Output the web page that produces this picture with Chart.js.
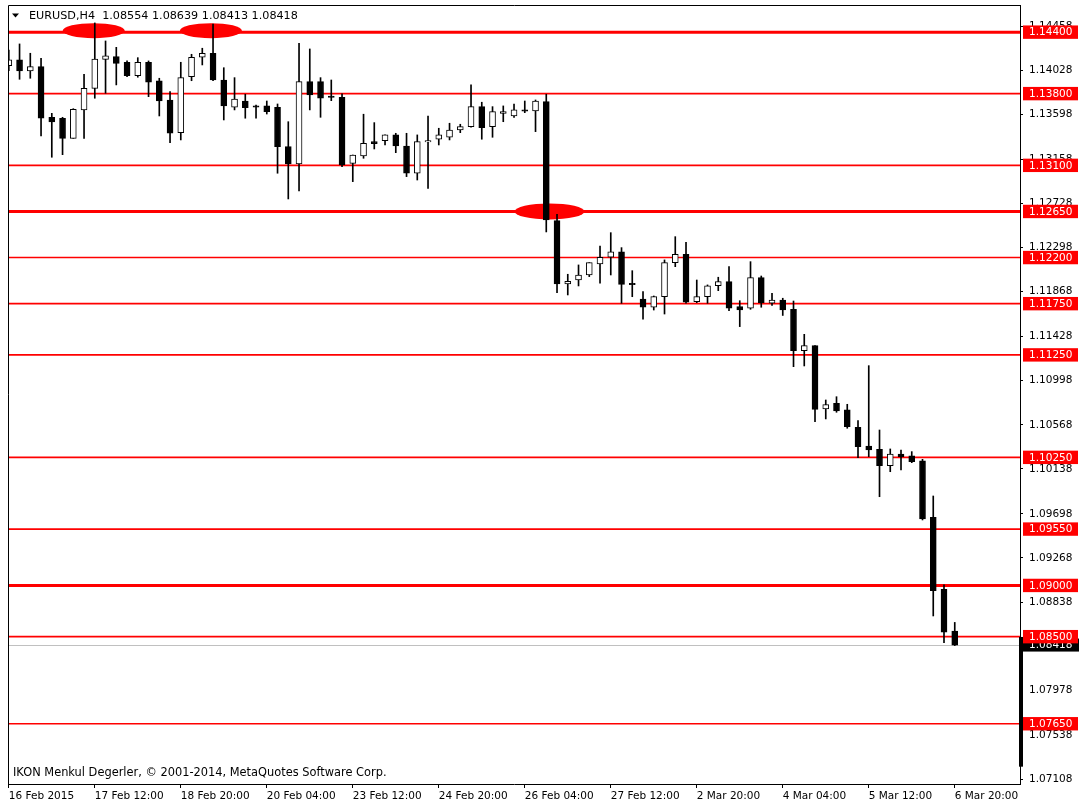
<!DOCTYPE html>
<html><head><meta charset="utf-8">
<script src="https://cdn.jsdelivr.net/npm/chart.js@4.4.1/dist/chart.umd.min.js"></script>
<style>html,body{margin:0;padding:0;background:#fff;overflow:hidden}#wrap{width:1079px;height:807px}</style>
</head><body>
<div id="wrap"><canvas id="c" width="1079" height="807"></canvas></div>
<script>
// ---- data (EURUSD H4) ----
const symbolTitle = 'EURUSD,H4';
const opens  = [1.14073,1.14129,1.14021,1.14063,1.13569,1.13560,1.13364,1.13641,1.13852,1.14135,
                1.14161,1.14106,1.13975,1.14106,1.13924,1.13738,1.13419,1.13966,1.14155,1.14194,
                1.13933,1.13667,1.13728,1.13680,1.13680,1.13667,1.13282,1.13113,1.13917,1.13917,
                1.13777,1.13764,1.13120,1.13192,1.13331,1.13341,1.13397,1.13289,1.13023,1.13328,
                1.13355,1.13374,1.13445,1.13478,1.13673,1.13478,1.13608,1.13582,1.13641,1.13631,
                1.13722,1.12560,1.11942,1.11981,1.12030,1.12138,1.12203,1.12255,1.11949,1.11796,
                1.11715,1.11818,1.12150,1.12232,1.11770,1.11818,1.11926,1.11965,1.11721,1.11705,
                1.12004,1.11754,1.11786,1.11695,1.11291,1.11340,1.10722,1.10778,1.10713,1.10544,
                1.10361,1.10329,1.10169,1.10283,1.10266,1.10215,1.09665,1.08963,1.08554];
const highs  = [1.14226,1.14285,1.14194,1.14145,1.13608,1.13569,1.13653,1.13989,1.14490,1.14314,
                1.14252,1.14119,1.14151,1.14119,1.13950,1.13819,1.14106,1.14184,1.14243,1.14480,
                1.14053,1.13956,1.13794,1.13689,1.13728,1.13699,1.13526,1.14292,1.14236,1.13956,
                1.13933,1.13797,1.13201,1.13599,1.13517,1.13397,1.13413,1.13413,1.13397,1.13582,
                1.13462,1.13511,1.13501,1.13885,1.13716,1.13673,1.13680,1.13699,1.13728,1.13738,
                1.13794,1.12623,1.12037,1.12128,1.12150,1.12313,1.12443,1.12297,1.12072,1.11867,
                1.11825,1.12177,1.12404,1.12349,1.11981,1.11933,1.12008,1.12111,1.11779,1.12160,
                1.12020,1.11852,1.11803,1.11776,1.11451,1.11340,1.10810,1.10842,1.10768,1.10608,
                1.11145,1.10517,1.10332,1.10322,1.10306,1.10231,1.09873,1.09005,1.08639];
const lows   = [1.14024,1.13940,1.13950,1.13387,1.13179,1.13204,1.13364,1.13364,1.13755,1.13804,
                1.13885,1.13966,1.13960,1.13770,1.13582,1.13321,1.13348,1.13926,1.14080,1.13926,
                1.13543,1.13641,1.13560,1.13560,1.13601,1.13023,1.12772,1.12850,1.13641,1.13569,
                1.13731,1.13087,1.12941,1.13169,1.13260,1.13299,1.13224,1.12990,1.12957,1.12876,
                1.13299,1.13348,1.13419,1.13472,1.13355,1.13374,1.13526,1.13569,1.13614,1.13429,
                1.12450,1.11857,1.11835,1.11923,1.12014,1.11949,1.12030,1.11754,1.11818,1.11598,
                1.11688,1.11649,1.12111,1.11754,1.11760,1.11754,1.11877,1.11682,1.11526,1.11695,
                1.11715,1.11732,1.11635,1.11135,1.11142,1.10598,1.10625,1.10690,1.10534,1.10247,
                1.10257,1.09866,1.10110,1.10127,1.10198,1.09639,1.08702,1.08441,1.08413];
const closes = [1.14129,1.14021,1.14063,1.13560,1.13523,1.13364,1.13647,1.13852,1.14138,1.14170,
                1.14096,1.13975,1.14106,1.13911,1.13728,1.13413,1.13956,1.14155,1.14194,1.13933,
                1.13680,1.13748,1.13663,1.13667,1.13624,1.13282,1.13113,1.13917,1.13787,1.13755,
                1.13764,1.13104,1.13201,1.13316,1.13312,1.13397,1.13289,1.13023,1.13331,1.13341,
                1.13397,1.13445,1.13478,1.13673,1.13468,1.13624,1.13624,1.13641,1.13628,1.13728,
                1.12567,1.11942,1.11969,1.12030,1.12150,1.12203,1.12255,1.11939,1.11935,1.11715,
                1.11818,1.12150,1.12232,1.11764,1.11818,1.11923,1.11965,1.11705,1.11688,1.12004,
                1.11760,1.11786,1.11688,1.11291,1.11340,1.10719,1.10764,1.10703,1.10550,1.10354,
                1.10322,1.10169,1.10283,1.10257,1.10208,1.09649,1.08949,1.08543,1.08418];
const timeTickBars   = [0,8,16,24,32,40,48,56,64,72,80,88];
const timeTickLabels = ['16 Feb 2015','17 Feb 12:00','18 Feb 20:00','20 Feb 04:00','23 Feb 12:00','24 Feb 20:00',
                        '26 Feb 04:00','27 Feb 12:00','2 Mar 20:00','4 Mar 04:00','5 Mar 12:00','6 Mar 20:00'];
const priceTicks = [1.14458,1.14028,1.13598,1.13158,1.12728,1.12298,1.11868,1.11428,1.10998,1.10568,
                    1.10138,1.09698,1.09268,1.08838,1.08408,1.07978,1.07538,1.07108];
const levels = [1.14400,1.13800,1.13100,1.12650,1.12200,1.11750,1.11250,1.10250,1.09550,1.09000,1.08500,1.07650];
const strongLevels = [1.14400,1.12650,1.09000];
const highlightBars   = [7.9, 18.8, 50.3];
const highlightPrices = [1.14400, 1.14400, 1.12650];
const lastPrice = closes[closes.length-1];
const sideBarRange = [1.07231, 1.08497];
const copyrightText = 'IKON Menkul Degerler, \u00A9 2001-2014, MetaQuotes Software Corp.';

// ---- chart ----
const FONT = "'DejaVu Sans',sans-serif";
Chart.defaults.font.family = FONT;
Chart.defaults.font.size = 10.5;
Chart.defaults.color = '#000';

const wickData = highs.map((h,i)=>({x:i, y:[lows[i], h]}));
const bodyData = opens.map((o,i)=>({x:i, y:[o, closes[i]]}));
const bodyFill = opens.map((o,i)=> closes[i] >= o ? '#ffffff' : '#000000');

const overlay = {
  id:'overlay',
  beforeDatasetsDraw(chart){
    const {ctx, chartArea:a, scales:{x,y}} = chart;
    ctx.save();
    ctx.beginPath(); ctx.rect(a.left, a.top, a.right-a.left, a.bottom-a.top); ctx.clip();
    const yl = Math.round(y.getPixelForValue(lastPrice))+0.5;
    ctx.strokeStyle='#c0c0c0'; ctx.lineWidth=1;
    ctx.beginPath(); ctx.moveTo(a.left,yl); ctx.lineTo(a.right,yl); ctx.stroke();
    levels.forEach(p=>{
      const strong = strongLevels.includes(p);
      const py = y.getPixelForValue(p);
      ctx.strokeStyle='#ff0000'; ctx.lineWidth = strong ? 3 : 1.6;
      ctx.beginPath(); ctx.moveTo(a.left,py); ctx.lineTo(a.right,py); ctx.stroke();
    });
    ctx.fillStyle='#ff0000';
    highlightBars.forEach((b,k)=>{
      const cx = x.getPixelForValue(b), cy = y.getPixelForValue(highlightPrices[k]);
      const big = k===2;
      ctx.beginPath();
      ctx.ellipse(cx, big ? cy : cy-1.5, big ? 35 : 31, big ? 8 : 7.5, 0, 0, Math.PI*2);
      ctx.fill();
    });
    ctx.restore();
  },
  afterDraw(chart){
    const {ctx, chartArea:a, scales:{y}} = chart;
    ctx.save();
    ctx.strokeStyle='#000'; ctx.lineWidth=1;
    ctx.beginPath();
    ctx.moveTo(a.left+0.5, a.bottom); ctx.lineTo(a.left+0.5, a.top+0.5); ctx.lineTo(a.right, a.top+0.5);
    ctx.stroke();
    const sy1 = y.getPixelForValue(sideBarRange[1]), sy0 = y.getPixelForValue(sideBarRange[0]);
    ctx.fillStyle='#000'; ctx.fillRect(a.right-1, sy1, 4, sy0-sy1);
    ctx.font = '10.5px '+FONT; ctx.textBaseline='middle'; ctx.textAlign='left';
    const cp = y.getPixelForValue(lastPrice);
    ctx.fillStyle='#000'; ctx.fillRect(a.right, cp-6.5, 1079-a.right, 13);
    ctx.fillStyle='#fff'; ctx.fillText(lastPrice.toFixed(5), a.right+9, cp+0.5);
    levels.forEach(p=>{
      const py = y.getPixelForValue(p);
      ctx.fillStyle='#ff0000'; ctx.fillRect(a.right+3, py-6.7, 1079-a.right-4, 13.4);
      ctx.fillStyle='#fff'; ctx.fillText(p.toFixed(5), a.right+9, py+0.5);
    });
    ctx.fillStyle='#000';
    ctx.beginPath(); ctx.moveTo(12,13.5); ctx.lineTo(19,13.5); ctx.lineTo(15.5,17.5); ctx.closePath(); ctx.fill();
    const n = closes.length-1;
    ctx.font = '11.2px '+FONT;
    ctx.fillText(symbolTitle+'  '+opens[n].toFixed(5)+' '+highs[n].toFixed(5)+' '+lows[n].toFixed(5)+' '+closes[n].toFixed(5), 29, 16);
    ctx.font = '11.4px '+FONT;
    ctx.fillText(copyrightText, 13, 773);
    ctx.restore();
  }
};

new Chart(document.getElementById('c'), {
  type:'bar',
  data:{datasets:[
    {label:'wick', data:wickData, backgroundColor:'#000', borderWidth:0, barThickness:1, grouped:false, order:2},
    {label:'body', data:bodyData, backgroundColor:bodyFill, borderColor:'#000', borderWidth:1, borderSkipped:false, barThickness:6, grouped:false, order:1}
  ]},
  options:{
    responsive:false, animation:false, devicePixelRatio:1,
    layout:{padding:{left:8, top:5, right:0, bottom:0}},
    plugins:{legend:{display:false}, tooltip:{enabled:false}},
    scales:{
      x:{type:'linear', min:-0.0744, max:94.07, offset:false, position:'bottom',
        afterBuildTicks: s=>{ s.ticks = timeTickBars.map(v=>({value:v})); },
        afterFit: s=>{ s.height = 23; s.paddingLeft = 0; s.paddingRight = 0; },
        grid:{display:true, drawOnChartArea:false, drawTicks:true, tickLength:4, color:'#000', offset:false},
        border:{display:true, color:'#000', width:1},
        ticks:{autoSkip:false, maxRotation:0, minRotation:0, align:'start', padding:2, color:'#000',
          callback:(v)=>{ const k = timeTickBars.indexOf(v); return k>=0 ? timeTickLabels[k] : ''; }}
      },
      y:{type:'linear', position:'right', min:1.07062, max:1.14665,
        afterBuildTicks: s=>{ s.ticks = priceTicks.map(v=>({value:v})); },
        afterFit: s=>{ s.width = 59; s.paddingTop = 0; s.paddingBottom = 0; },
        grid:{display:true, drawOnChartArea:false, drawTicks:true, tickLength:3, color:'#000'},
        border:{display:true, color:'#000', width:1},
        ticks:{padding:6, color:'#000', callback:(v)=>Number(v).toFixed(5)}
      }
    }
  },
  plugins:[overlay]
});
</script>
</body></html>
